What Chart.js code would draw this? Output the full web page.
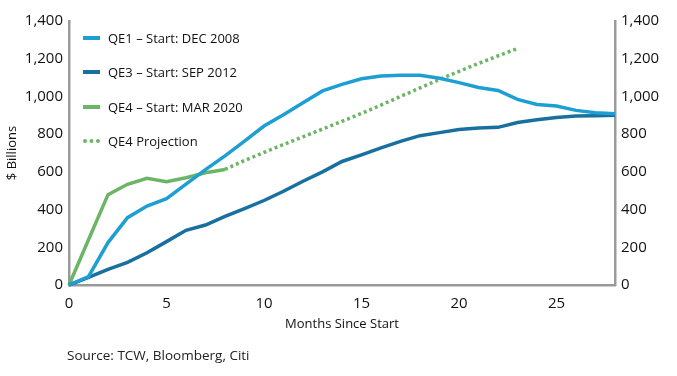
<!DOCTYPE html>
<html>
<head>
<meta charset="utf-8">
<script src="https://cdn.jsdelivr.net/npm/chart.js@4/dist/chart.umd.min.js"></script>
<style>
  html, body { margin: 0; padding: 0; background: #fff; }
  #wrap { position: relative; width: 677px; height: 376px; font-family: 'Open Sans', sans-serif; }
  #legend { position: absolute; left: 83px; top: 21px; }
  .item { height: 34.3px; display: flex; align-items: center; font-size: 13px; color: #111; }
  .sw { width: 17px; height: 0; margin-right: 8px; }
  #source { position: absolute; left: 67px; top: 346px; font-size: 13.5px; color: #222; }
</style>
</head>
<body>
<div id="wrap">
  <canvas id="c" width="677" height="376"></canvas>
  <div id="legend"></div>
  <div id="source">Source: TCW, Bloomberg, Citi</div>
</div>
<script>
const MONTHS = [0,1,2,3,4,5,6,7,8,9,10,11,12,13,14,15,16,17,18,19,20,21,22,23,24,25,26,27,28];
const QE1 = [0,45,225,357,419,458,535,612,685,763,843,903,967,1029,1064,1094,1108,1112,1112,1096,1073,1047,1032,984,957,949,926,914,908];
const QE3 = [0,40,83,120,171,230,290,318,364,405,448,497,550,600,655,690,727,762,792,808,825,832,836,862,876,888,896,898,900];
const QE4 = [0,240,479,534,566,548,569,595,613];
const PROJ_MONTHS = [8,9,10,11,12,13,14,15,16,17,18,19,20,21,22,23];
const PROJ = [613,660,703,745,786,827,868,910,954,1000,1045,1090,1133,1175,1215,1254];
const Y_TICKS = [0,200,400,600,800,1000,1200,1400];
const X_TICKS = [0,5,10,15,20,25];

const COLORS = { qe1: '#1e9fd4', qe3: '#17709f', qe4: '#6cb466', axis: '#9a9a9a' };
const FONT = "'Open Sans', sans-serif";

const pts = (xs, ys) => ys.map((y, i) => ({ x: xs[i], y }));

const datasets = [
  { label: 'QE1 \u2013 Start: DEC 2008', data: pts(MONTHS, QE1), borderColor: COLORS.qe1 },
  { label: 'QE3 \u2013 Start: SEP 2012', data: pts(MONTHS, QE3), borderColor: COLORS.qe3 },
  { label: 'QE4 \u2013 Start: MAR 2020', data: pts(MONTHS, QE4), borderColor: COLORS.qe4 },
  { label: 'QE4 Projection', data: pts(PROJ_MONTHS, PROJ), borderColor: COLORS.qe4, borderDash: [3, 3], dotted: true },
].map(d => ({ ...d, borderWidth: 3.5, pointRadius: 0, tension: 0, fill: false, yAxisID: 'y', clip: false }));

const yAxis = (position, width) => ({
  type: 'linear', position, min: 0, max: 1400,
  afterBuildTicks: s => { s.ticks = Y_TICKS.map(v => ({ value: v })); },
  afterFit: s => { s.width = width; },
  grid: { display: false, drawTicks: false },
  border: { display: true, color: COLORS.axis, width: 2.5 },
  ticks: { color: '#111', font: { family: FONT, size: 15 }, padding: 6,
    callback: v => v.toLocaleString('en-US') },
});

const left = yAxis('left', 69);
left.title = { display: true, text: '$ Billions', color: '#111', font: { family: FONT, size: 13 }, padding: { top: 4, bottom: 0 } };
const right = yAxis('right', 62);

new Chart(document.getElementById('c'), {
  type: 'line',
  data: { datasets },
  options: {
    responsive: false,
    animation: false,
    layout: { padding: { top: 21, bottom: 40, left: 0, right: 0 } },
    plugins: { legend: { display: false }, tooltip: { enabled: false } },
    scales: {
      x: {
        type: 'linear', min: 0, max: 28,
        afterBuildTicks: s => { s.ticks = X_TICKS.map(v => ({ value: v })); },
        afterFit: s => { s.height = 51; },
        grid: { display: false, drawTicks: false },
        border: { display: true, color: COLORS.axis, width: 2.5 },
        ticks: { color: '#111', font: { family: FONT, size: 15 }, padding: 10 },
        title: { display: true, text: 'Months Since Start', color: '#111', font: { family: FONT, size: 13 }, padding: { top: 5 } },
      },
      y: left,
      y2: right,
    },
  },
});

// legend
const legend = document.getElementById('legend');
for (const d of datasets) {
  const row = document.createElement('div');
  row.className = 'item';
  const sw = document.createElement('span');
  sw.className = 'sw';
  sw.style.borderTop = `4px ${d.dotted ? 'dotted' : 'solid'} ${d.borderColor}`;
  row.appendChild(sw);
  row.appendChild(document.createTextNode(d.label));
  legend.appendChild(row);
}
</script>
</body>
</html>
